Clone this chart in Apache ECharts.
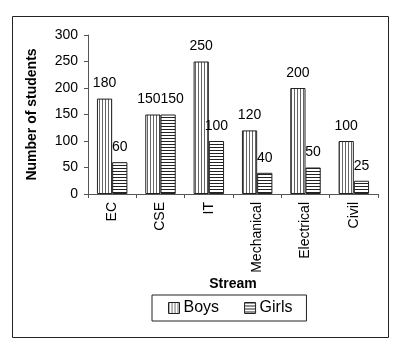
<!DOCTYPE html>
<html><head><meta charset="utf-8">
<script src="https://cdn.jsdelivr.net/npm/echarts@6/dist/echarts.min.js"></script>
<style>html,body{margin:0;padding:0;background:#fff}#c{width:408px;height:350px}</style>
</head><body><div id="c"></div>
<script>
const categories = ['EC', 'CSE', 'IT', 'Mechanical', 'Electrical', 'Civil'];
const boys = [180, 150, 250, 120, 200, 100];
const girls = [60, 150, 100, 40, 50, 25];
const yTicks = [0, 50, 100, 150, 200, 250, 300];

function stripe(vertical, lineColor) {
  const c = document.createElement('canvas');
  c.width = 3; c.height = 3;
  const g = c.getContext('2d');
  g.fillStyle = '#fff'; g.fillRect(0, 0, 3, 3);
  g.fillStyle = lineColor;
  if (vertical) g.fillRect(0, 0, 1, 3); else g.fillRect(0, 0, 3, 1);
  return { image: c, repeat: 'repeat' };
}
const FF = 'Liberation Sans, Arial, sans-serif';
// nudge the touching CSE labels apart, as in the reference
const boysData = boys.map((v, i) => categories[i] === 'CSE' ? { value: v, label: { offset: [-4, 0] } } : v);
const girlsData = girls.map((v, i) => categories[i] === 'CSE' ? { value: v, label: { offset: [4, 0] } } : v);
const chart = echarts.init(document.getElementById('c'), null, { renderer: 'canvas' });
chart.setOption({
  animation: false,
  backgroundColor: '#fff',
  graphic: [{ type: 'rect', shape: { x: 12.5, y: 16.5, width: 376, height: 321 }, style: { fill: 'none', stroke: '#222', lineWidth: 1 } }],
  grid: { left: 88, top: 35, width: 290, height: 159 },
  legend: {
    left: 152, top: 295, orient: 'horizontal',
    borderColor: '#222', borderWidth: 1, padding: [5, 14, 5, 16],
    itemWidth: 11, itemHeight: 11, itemGap: 25, icon: 'rect',
    itemStyle: { borderColor: '#222', borderWidth: 1 },
    textStyle: { fontFamily: FF, fontSize: 16, color: '#000', padding: [0, 0, 0, -1] },
    data: ['Boys', 'Girls']
  },
  xAxis: {
    type: 'category', data: categories,
    name: 'Stream', nameLocation: 'middle', nameGap: 77,
    nameTextStyle: { fontFamily: FF, fontWeight: 'bold', fontSize: 14, color: '#000' },
    axisLine: { lineStyle: { color: '#555', width: 1 } },
    axisTick: { show: true, alignWithLabel: false, length: 4, lineStyle: { color: '#555' } },
    axisLabel: { rotate: 90, fontFamily: FF, fontSize: 14, color: '#000', margin: 8, interval: 0 }
  },
  yAxis: {
    type: 'value', min: 0, max: 300, interval: 50,
    name: 'Number of students', nameLocation: 'middle', nameGap: 49, nameRotate: 90,
    nameTextStyle: { fontFamily: FF, fontWeight: 'bold', fontSize: 14, color: '#000' },
    axisLine: { show: true, lineStyle: { color: '#555', width: 1 } },
    axisTick: { show: true, length: 4, lineStyle: { color: '#555' } },
    splitLine: { show: false },
    axisLabel: { fontFamily: FF, fontSize: 14, color: '#000', margin: 10,
      formatter: v => yTicks.includes(v) ? String(v) : '' }
  },
  series: [
    { name: 'Boys', type: 'bar', data: boysData, barGap: '0%', barCategoryGap: '37%',
      itemStyle: { color: stripe(true, '#666'), borderColor: '#222', borderWidth: 1 },
      label: { show: true, position: 'top', distance: 8, fontFamily: FF, fontSize: 14, color: '#000' } },
    { name: 'Girls', type: 'bar', data: girlsData,
      itemStyle: { color: stripe(false, '#222'), borderColor: '#222', borderWidth: 1 },
      label: { show: true, position: 'top', distance: 8, fontFamily: FF, fontSize: 14, color: '#000' } }
  ]
});
</script></body></html>
